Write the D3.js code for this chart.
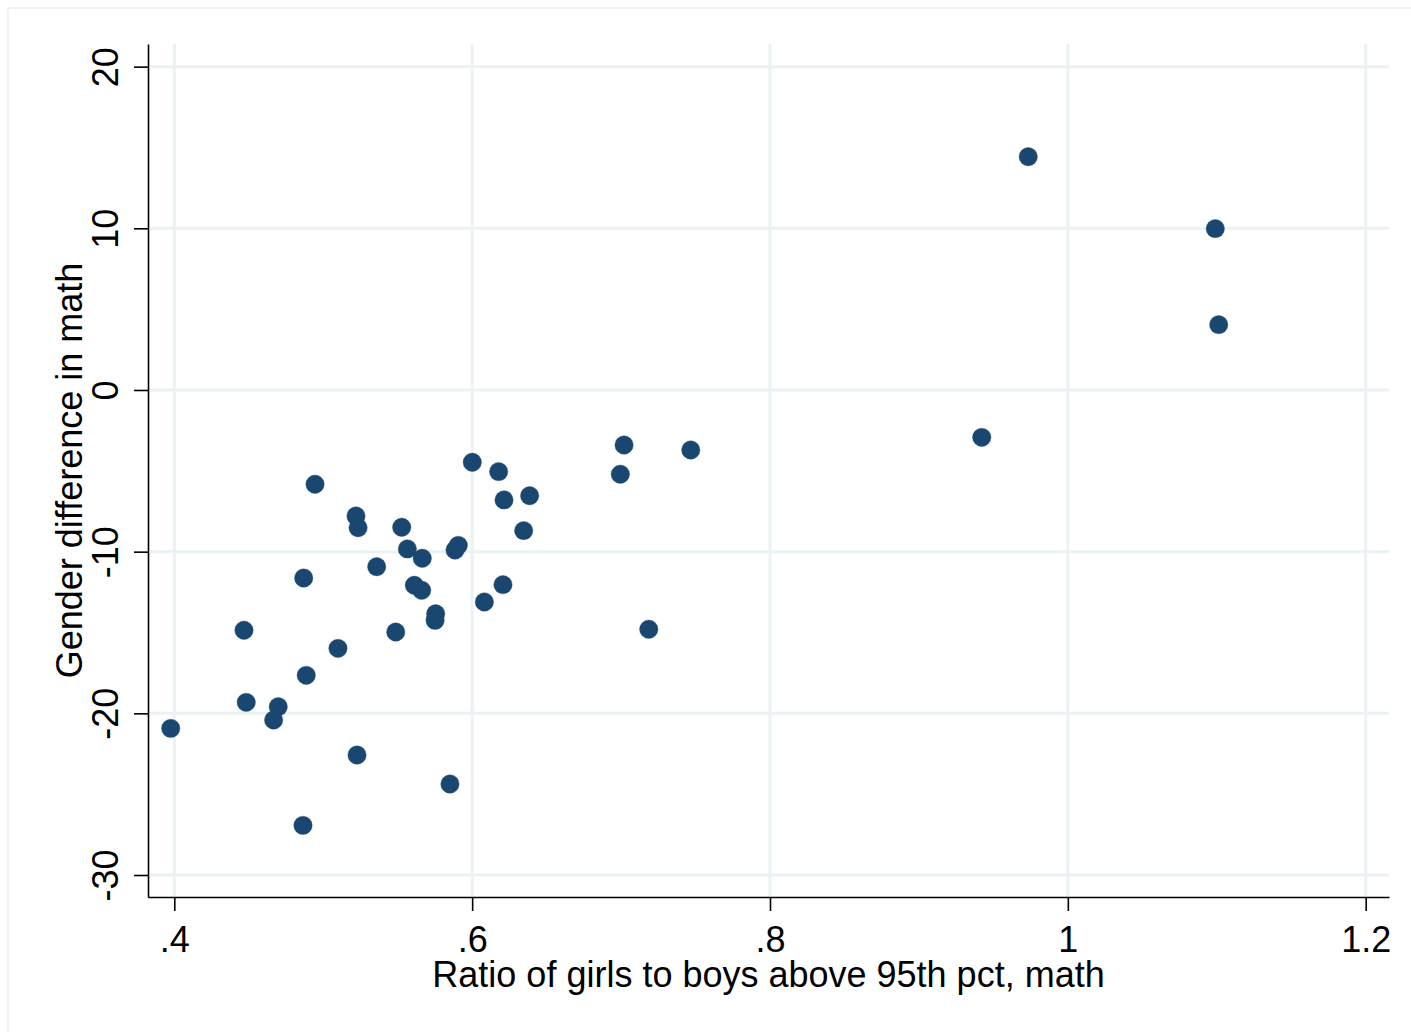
<!DOCTYPE html>
<html>
<head>
<meta charset="utf-8">
<script src="https://cdn.jsdelivr.net/npm/d3@7"></script>
<style>
    body { margin: 0; background: #fff; }
    svg { display: block; }
    text { font-family: "Liberation Sans", Arial, sans-serif; fill: #000; }
</style>
</head>
<body>
<div id="vis"></div>
<script>
// ratio of girls to boys above 95th pct (x) and gender difference in math (y)
var ratio = [0.3976, 0.4468, 0.4483, 0.4698, 0.4667, 0.4869, 0.4886, 0.4864, 0.4945, 0.5099,
    0.5220, 0.5234, 0.5227, 0.5359, 0.5487, 0.5527, 0.5565, 0.5665, 0.5612, 0.5661,
    0.5755, 0.5751, 0.5851, 0.5885, 0.5907, 0.6001, 0.6082, 0.6178, 0.6214, 0.6207,
    0.6346, 0.6386, 0.7020, 0.6995, 0.7468, 0.7186, 0.9734, 1.0990, 1.1013, 0.9422];
var gap = [-20.93, -14.86, -19.32, -19.59, -20.41, -11.63, -17.65, -26.93, -5.83, -15.98,
    -7.79, -8.52, -22.58, -10.93, -14.97, -8.49, -9.83, -10.41, -12.08, -12.39,
    -13.84, -14.25, -24.37, -9.90, -9.61, -4.47, -13.11, -5.05, -6.80, -12.04,
    -8.70, -6.54, -3.40, -5.21, -3.71, -14.80, 14.43, 9.98, 4.04, -2.93];
var xTicks = [0.4, 0.6, 0.8, 1, 1.2];
var xTickLabels = [".4", ".6", ".8", "1", "1.2"];
var yTicks = [-30, -20, -10, 0, 10, 20];
var yTickLabels = ["-30", "-20", "-10", "0", "10", "20"];

var width = 1411,
    height = 1032;
var margin = { top: 44, right: 22, bottom: 135, left: 148 };
var plotW = width - margin.left - margin.right,
    plotH = height - margin.top - margin.bottom;

var svg = d3.select("#vis")
    .append("svg")
    .attr("width", width)
    .attr("height", height);

// outer frame
svg.append("rect")
    .attr("x", 8)
    .attr("y", 8)
    .attr("width", width)
    .attr("height", height)
    .attr("fill", "none")
    .attr("stroke", "#edf2f4")
    .attr("stroke-width", 2);

var g = svg.append("g")
    .attr("transform", "translate(" + margin.left + "," + margin.top + ")");

var x = d3.scaleLinear()
    .domain([0.38234, 1.21565])
    .range([0, plotW]);

var y = d3.scaleLinear()
    .domain([-31.36, 21.40])
    .range([plotH, 0]);

// grid
g.selectAll(".vgrid")
    .data(xTicks)
    .enter().append("line")
    .attr("class", "vgrid")
    .attr("x1", function (d) { return x(d); })
    .attr("x2", function (d) { return x(d); })
    .attr("y1", 0)
    .attr("y2", plotH)
    .attr("stroke", "#eaf2f3")
    .attr("stroke-width", 3);

g.selectAll(".hgrid")
    .data(yTicks)
    .enter().append("line")
    .attr("class", "hgrid")
    .attr("x1", 0)
    .attr("x2", plotW)
    .attr("y1", function (d) { return y(d); })
    .attr("y2", function (d) { return y(d); })
    .attr("stroke", "#eaf2f3")
    .attr("stroke-width", 3);

// points
var pts = ratio.map(function (d, i) { return { x: d, y: gap[i] }; });

g.selectAll(".dot")
    .data(pts)
    .enter().append("circle")
    .attr("class", "dot")
    .attr("cx", function (d) { return x(d.x); })
    .attr("cy", function (d) { return y(d.y); })
    .attr("r", 9.2)
    .attr("fill", "#1a476f")
    .attr("stroke", "#1a476f")
    .attr("stroke-width", 0.4);

// X axis
var xAxis = g.append("g")
    .attr("transform", "translate(0," + plotH + ")")
    .call(d3.axisBottom(x)
        .tickValues(xTicks)
        .tickFormat(function (d, i) { return xTickLabels[i]; })
        .tickSize(14)
        .tickSizeOuter(0)
        .tickPadding(16));

// Y axis
var yAxis = g.append("g")
    .call(d3.axisLeft(y)
        .tickValues(yTicks)
        .tickFormat(function (d, i) { return yTickLabels[i]; })
        .tickSize(14)
        .tickSizeOuter(0));

[xAxis, yAxis].forEach(function (a) {
    a.select(".domain").attr("stroke", "#000").attr("stroke-width", 1.6);
    a.selectAll(".tick line").attr("stroke", "#000").attr("stroke-width", 1.6);
    a.selectAll(".tick text")
        .style("font-family", '"Liberation Sans", Arial, sans-serif')
        .style("font-size", "36px")
        .attr("fill", "#000");
});

xAxis.selectAll(".tick text").attr("dy", "0.7em");

// rotated y tick labels
yAxis.selectAll(".tick text")
    .attr("x", null)
    .attr("dy", null)
    .attr("text-anchor", "middle")
    .attr("transform", "translate(-30,0) rotate(-90)");

// axis titles
g.append("text")
    .attr("x", plotW / 2)
    .attr("y", 987 - margin.top)
    .attr("text-anchor", "middle")
    .style("font-size", "36px")
    .text("Ratio of girls to boys above 95th pct, math");

g.append("text")
    .attr("transform", "translate(" + (82 - margin.left) + "," + plotH / 2 + ") rotate(-90)")
    .attr("text-anchor", "middle")
    .style("font-size", "36px")
    .text("Gender difference in math");
</script>
</body>
</html>
